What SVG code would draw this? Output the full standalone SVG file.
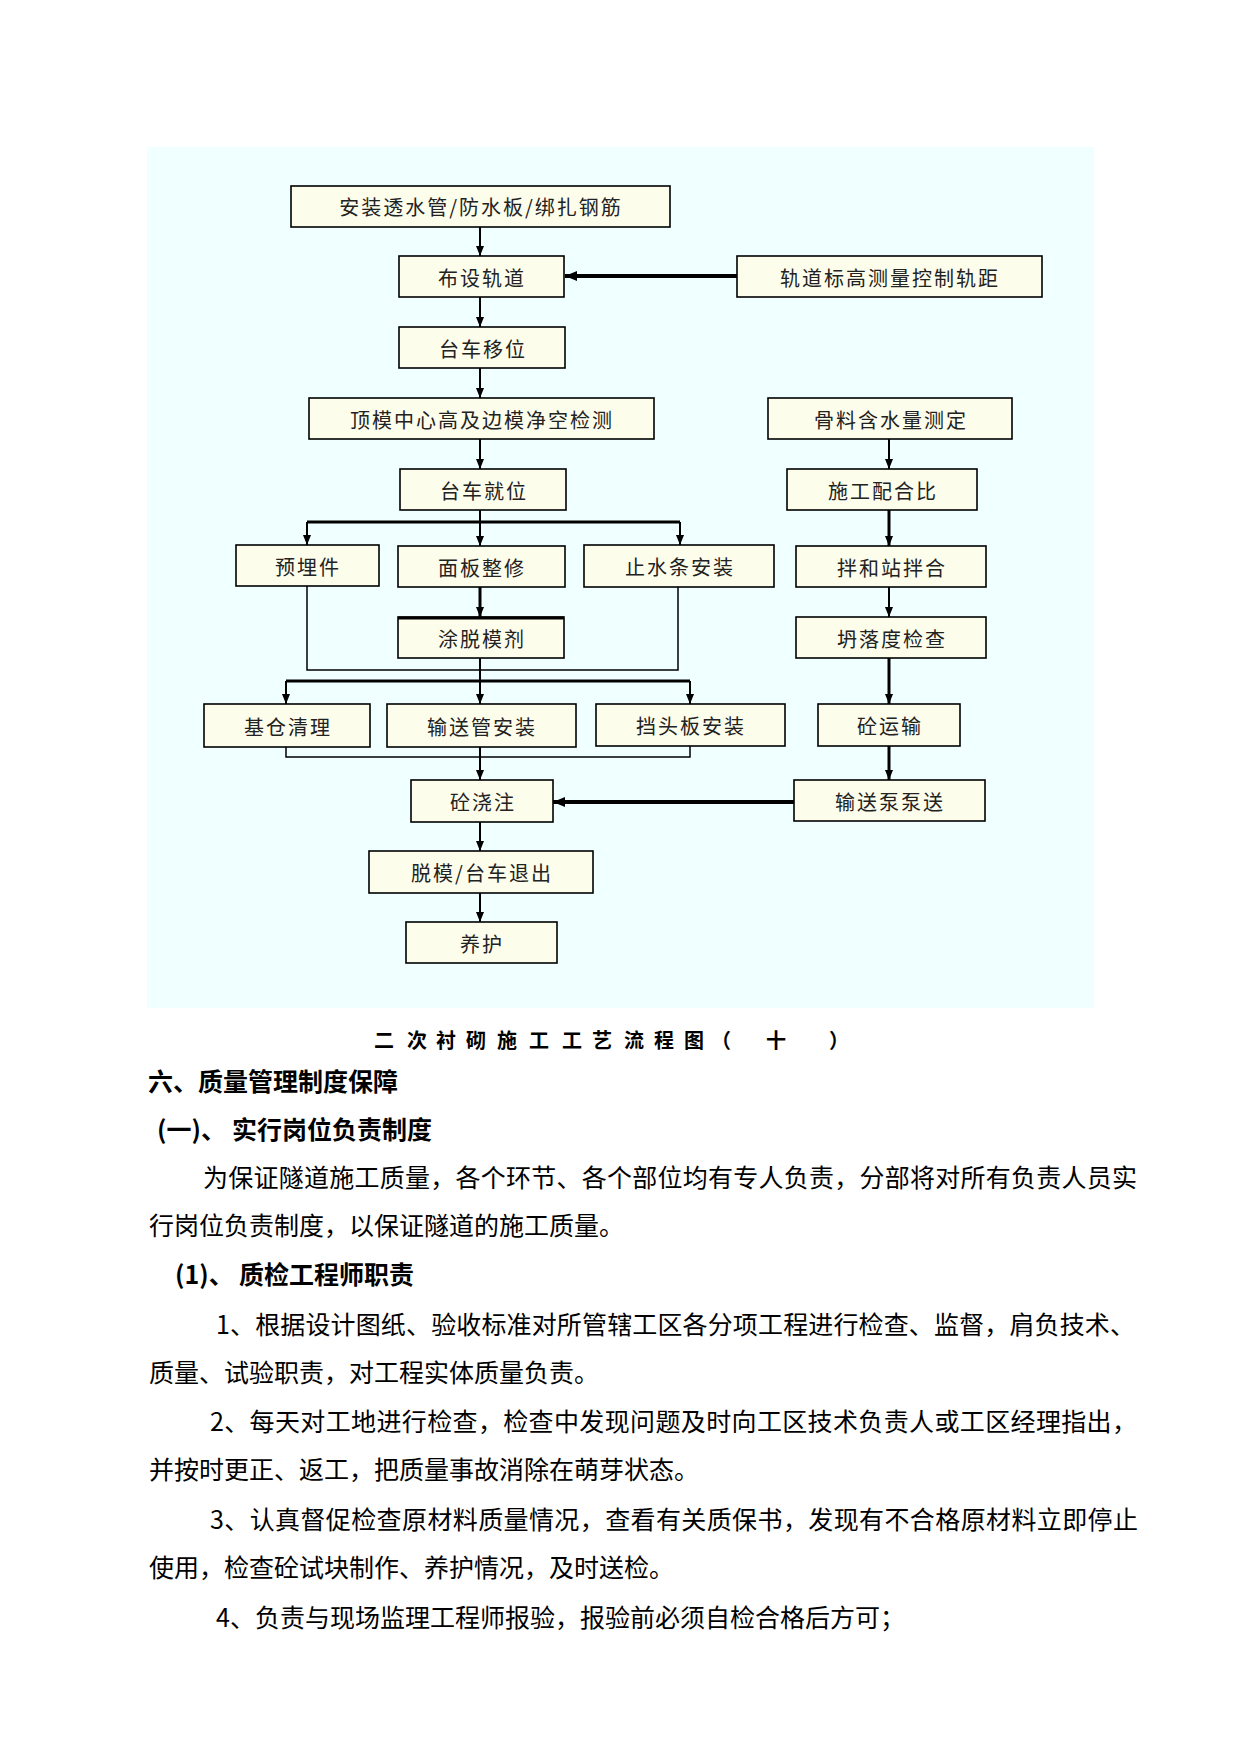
<svg xmlns="http://www.w3.org/2000/svg" width="1241" height="1754" viewBox="0 0 1241 1754">
<style>
.bg{fill:#F0FFFF}
.box{fill:#FDFDEC;stroke:#000;stroke-width:1.6}
.bt{font-family:"Noto Sans CJK SC","Noto Sans",sans-serif;font-size:20px;fill:#222;text-anchor:middle;letter-spacing:2px}
.ln{fill:none;stroke:#000;stroke-width:2}
.thin{fill:none;stroke:#000;stroke-width:1.5}
.thk{fill:none;stroke:#000;stroke-width:3}
.thk4{fill:none;stroke:#000;stroke-width:4}
.body{font-family:"Noto Sans CJK SC","Noto Sans",sans-serif;font-size:25px;fill:#000}
.hd{font-family:"Noto Sans CJK SC","Noto Sans",sans-serif;font-size:25px;font-weight:bold;fill:#000}
.cap{font-family:"Noto Sans CJK SC","Noto Sans",sans-serif;font-size:20px;font-weight:bold;fill:#000}
</style>
<defs>
<marker id="ar" markerUnits="userSpaceOnUse" markerWidth="10" markerHeight="8" refX="10" refY="4" orient="auto"><path d="M0,0 L10,4 L0,8 z" fill="#000"/></marker>
<marker id="arB" markerUnits="userSpaceOnUse" markerWidth="12" markerHeight="10" refX="12" refY="5" orient="auto"><path d="M0,0 L12,5 L0,10 z" fill="#000"/></marker>
</defs>
<rect width="1241" height="1754" fill="#fff"/>
<rect class="bg" x="147" y="147" width="947" height="861"/>

<g id="connectors">
<path class="ln" d="M480 227 V256" marker-end="url(#ar)"/>
<path class="thk4" d="M737 276 H565" marker-end="url(#arB)"/>
<path class="ln" d="M480 297 V327" marker-end="url(#ar)"/>
<path class="ln" d="M480 368 V398" marker-end="url(#ar)"/>
<path class="ln" d="M480 439 V469" marker-end="url(#ar)"/>
<path class="ln" d="M480 510 V522"/>
<path class="thk" d="M307 522 H680"/>
<path class="ln" d="M307 522 V545" marker-end="url(#ar)"/>
<path class="ln" d="M480 522 V546" marker-end="url(#ar)"/>
<path class="ln" d="M680 522 V545" marker-end="url(#ar)"/>
<path class="thk" d="M480 587 V617" marker-end="url(#ar)"/>
<path class="thin" d="M307 586 V670 H678 V587"/>
<path class="ln" d="M480 658 V681"/>
<path class="thk" d="M286 681 H690"/>
<path class="ln" d="M286 681 V704" marker-end="url(#ar)"/>
<path class="ln" d="M480 681 V704" marker-end="url(#ar)"/>
<path class="ln" d="M690 681 V704" marker-end="url(#ar)"/>
<path class="thin" d="M286 747 V757 H690 V746"/>
<path class="ln" d="M480 747 V780" marker-end="url(#ar)"/>
<path class="thk4" d="M794 802 H553" marker-end="url(#arB)"/>
<path class="ln" d="M480 822 V851" marker-end="url(#ar)"/>
<path class="ln" d="M480 893 V922" marker-end="url(#ar)"/>
<path class="ln" d="M889 439 V469" marker-end="url(#ar)"/>
<path class="thk" d="M889 510 V546" marker-end="url(#ar)"/>
<path class="ln" d="M889 587 V617" marker-end="url(#ar)"/>
<path class="thk" d="M889 658 V704" marker-end="url(#ar)"/>
<path class="thk" d="M889 746 V780" marker-end="url(#ar)"/>
</g>

<g id="n1"><rect class="box" x="291" y="186" width="379" height="41"/><text class="bt" x="481" y="215">安装透水管/防水板/绑扎钢筋</text></g>
<g id="n2"><rect class="box" x="399" y="256" width="165" height="41"/><text class="bt" x="482" y="286">布设轨道</text></g>
<g id="n3"><rect class="box" x="737" y="256" width="305" height="41"/><text class="bt" x="890" y="286">轨道标高测量控制轨距</text></g>
<g id="n4"><rect class="box" x="399" y="327" width="166" height="41"/><text class="bt" x="483" y="357">台车移位</text></g>
<g id="n5"><rect class="box" x="309" y="398" width="345" height="41"/><text class="bt" x="482" y="428">顶模中心高及边模净空检测</text></g>
<g id="n6"><rect class="box" x="768" y="398" width="244" height="41"/><text class="bt" x="891" y="428">骨料含水量测定</text></g>
<g id="n7"><rect class="box" x="400" y="469" width="166" height="41"/><text class="bt" x="484" y="499">台车就位</text></g>
<g id="n8"><rect class="box" x="787" y="469" width="190" height="41"/><text class="bt" x="883" y="499">施工配合比</text></g>
<g id="n9"><rect class="box" x="236" y="545" width="143" height="41"/><text class="bt" x="308" y="575">预埋件</text></g>
<g id="n10"><rect class="box" x="398" y="546" width="167" height="41"/><text class="bt" x="482" y="576">面板整修</text></g>
<g id="n11"><rect class="box" x="584" y="545" width="190" height="42"/><text class="bt" x="680" y="575">止水条安装</text></g>
<g id="n12"><rect class="box" x="796" y="546" width="190" height="41"/><text class="bt" x="892" y="576">拌和站拌合</text></g>
<g id="n13"><rect class="box" x="398" y="617" width="166" height="41"/><line x1="398" y1="618" x2="564" y2="618" stroke="#000" stroke-width="3"/><text class="bt" x="482" y="647">涂脱模剂</text></g>
<g id="n14"><rect class="box" x="796" y="617" width="190" height="41"/><text class="bt" x="892" y="647">坍落度检查</text></g>
<g id="n15"><rect class="box" x="204" y="704" width="166" height="43"/><text class="bt" x="288" y="735">基仓清理</text></g>
<g id="n16"><rect class="box" x="387" y="704" width="189" height="43"/><text class="bt" x="482" y="735">输送管安装</text></g>
<g id="n17"><rect class="box" x="596" y="704" width="189" height="42"/><text class="bt" x="691" y="734">挡头板安装</text></g>
<g id="n18"><rect class="box" x="818" y="704" width="142" height="42"/><text class="bt" x="890" y="734">砼运输</text></g>
<g id="n19"><rect class="box" x="411" y="780" width="142" height="42"/><text class="bt" x="483" y="810">砼浇注</text></g>
<g id="n20"><rect class="box" x="794" y="780" width="191" height="41"/><text class="bt" x="890" y="810">输送泵泵送</text></g>
<g id="n21"><rect class="box" x="369" y="851" width="224" height="42"/><text class="bt" x="482" y="881">脱模/台车退出</text></g>
<g id="n22"><rect class="box" x="406" y="922" width="151" height="41"/><text class="bt" x="482" y="952">养护</text></g>

<text class="cap" x="374 407 436 466 497 529 562 592 624 654 684 711 766 829" y="1048">二次衬砌施工工艺流程图（十）</text>

<text class="hd" x="148" y="1091">六、质量管理制度保障</text>
<text class="hd" x="157" y="1139">(一)、<tspan x="232">实行岗位负责制度</tspan></text>
<text class="body" x="203" y="1187" textLength="934" lengthAdjust="spacing">为保证隧道施工质量，各个环节、各个部位均有专人负责，分部将对所有负责人员实</text>
<text class="body" x="149" y="1235">行岗位负责制度，以保证隧道的施工质量。</text>
<text class="hd" x="175" y="1284">(1)、<tspan x="239">质检工程师职责</tspan></text>
<text class="body" x="216" y="1334" textLength="919" lengthAdjust="spacing">1、根据设计图纸、验收标准对所管辖工区各分项工程进行检查、监督，肩负技术、</text>
<text class="body" x="149" y="1382">质量、试验职责，对工程实体质量负责。</text>
<text class="body" x="210" y="1431" textLength="927" lengthAdjust="spacing">2、每天对工地进行检查，检查中发现问题及时向工区技术负责人或工区经理指出，</text>
<text class="body" x="149" y="1479">并按时更正、返工，把质量事故消除在萌芽状态。</text>
<text class="body" x="210" y="1529" textLength="928" lengthAdjust="spacing">3、认真督促检查原材料质量情况，查看有关质保书，发现有不合格原材料立即停止</text>
<text class="body" x="149" y="1577">使用，检查砼试块制作、养护情况，及时送检。</text>
<text class="body" x="216" y="1627">4、负责与现场监理工程师报验，报验前必须自检合格后方可；</text>
</svg>
